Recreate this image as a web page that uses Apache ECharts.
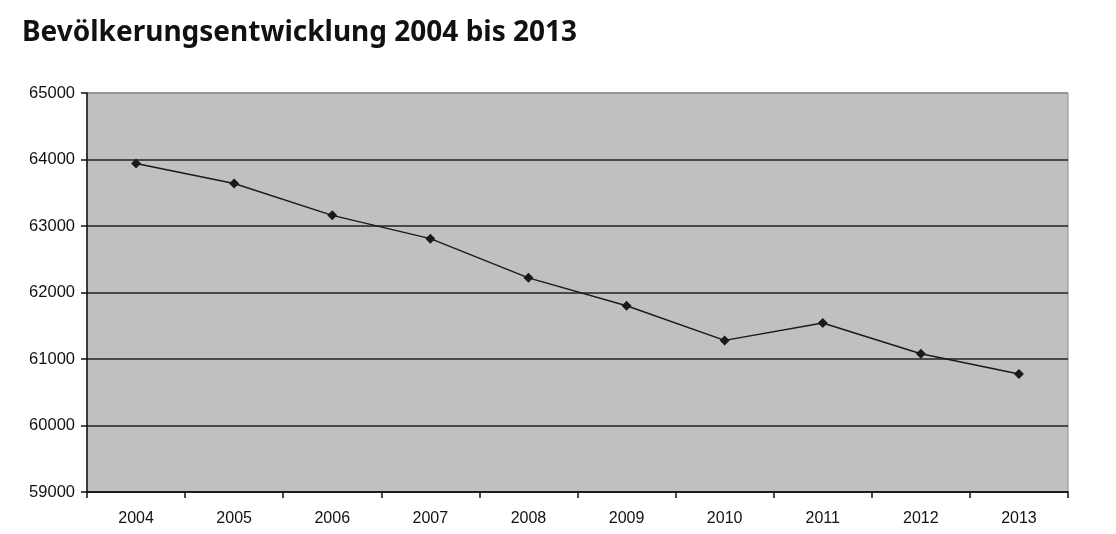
<!DOCTYPE html>
<html><head><meta charset="utf-8">
<script src="https://cdn.jsdelivr.net/npm/echarts@6/dist/echarts.min.js"></script>
<style>html,body{margin:0;padding:0;background:#fff}#c{width:1116px;height:534px}</style>
</head><body><div id="c"></div>
<script>
const title = 'Bevölkerungsentwicklung 2004 bis 2013';
const years = ['2004','2005','2006','2007','2008','2009','2010','2011','2012','2013'];
const population = [63940, 63640, 63160, 62810, 62220, 61800, 61280, 61540, 61080, 60775];
const yMin = 59000, yMax = 65000, yStep = 1000;

const chart = echarts.init(document.getElementById('c'));
chart.setOption({
  animation: false,
  backgroundColor: '#fff',
  title: {
    text: title, left: 17, top: 14,
    textStyle: {fontFamily: 'Noto Sans', fontWeight: 'bold', fontSize: 28, color: '#111'}
  },
  grid: {left: 87, right: 48, top: 93, bottom: 42, show: true, backgroundColor: '#c0c0c0', borderColor: '#8a8a8a', borderWidth: 1},
  xAxis: {
    type: 'category', data: years, boundaryGap: true,
    axisLine: {lineStyle: {color: '#111', width: 1.5}},
    axisTick: {show: true, length: 6, lineStyle: {color: '#111', width: 1.5}},
    axisLabel: {fontFamily: 'Liberation Sans', fontSize: 16, color: '#111', margin: 19},
    splitLine: {show: false}
  },
  yAxis: {
    type: 'value', min: yMin, max: yMax, interval: yStep,
    axisLine: {show: true, lineStyle: {color: '#111', width: 1.5}},
    axisTick: {show: true, length: 6, lineStyle: {color: '#111', width: 1.5}},
    axisLabel: {fontFamily: 'Liberation Sans', fontSize: 16.5, color: '#111', margin: 12, formatter: v => String(v)},
    splitLine: {show: true, lineStyle: {color: ['#222','#222','#222','#222','#222','#222','#8a8a8a'], width: 1.5}}
  },
  series: [{
    type: 'line', data: population,
    symbol: 'diamond', symbolSize: 10,
    lineStyle: {color: '#1a1a1a', width: 1.5},
    itemStyle: {color: '#1a1a1a'}
  }]
});
</script></body></html>
